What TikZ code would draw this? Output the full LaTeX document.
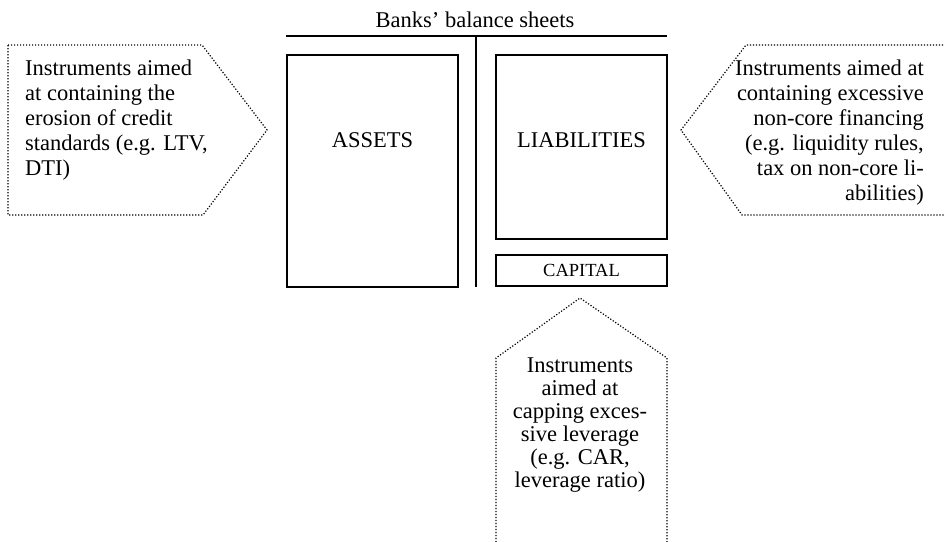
\documentclass[tikz,border=0pt]{standalone}
\usepackage{fontspec}
\setmainfont{Liberation Serif}
\usetikzlibrary{positioning,calc}
\tikzset{
    sheetbox/.style={rectangle, draw, line width=1.4pt, inner sep=0pt},
    sheettext/.style={font=\fontsize{22.5}{25}\selectfont, inner sep=0pt},
    capitaltext/.style={font=\fontsize{18.5}{20}\selectfont, inner sep=0pt},
    tooltext/.style={font=\fontsize{22.5}{25}\selectfont, inner sep=0pt},
    toolshape/.style={draw, line width=1.2pt, dash pattern=on 1.2pt off 1.8pt},
    tline/.style={draw, line width=2.4pt}
}
\begin{document}
\begin{tikzpicture}[x=1pt, y=-1pt]
    \useasboundingbox (0,0) rectangle (944,541);

    % balance sheet
    \node [sheettext, anchor=base] (title) at (475,27) {Banks’ balance sheets};
    \coordinate (tl) at (286,36);
    \coordinate (tr) at (667,36);
    \coordinate (tm) at (476,36);
    \coordinate (tb) at (476,287);
    \path [tline] (tl) -- (tr);
    \path [tline] (tm) -- (tb);

    \node [sheetbox, minimum width=171pt, minimum height=232pt] (assets) at (372.5,171) {};
    \node [sheetbox, minimum width=171pt, minimum height=184pt] (liab) at (581.5,147) {};
    \node [sheetbox, minimum width=171pt, minimum height=31pt] (capital) at (581.5,270.5) {};
    \node [sheettext, anchor=base] at (372.5,147) {ASSETS};
    \node [sheettext, anchor=base] at (581.5,147) {LIABILITIES};
    \node [capitaltext] at (capital) {CAPITAL};

    % instruments
    \path [toolshape] (8,45) -- (202,45) -- (267,130) -- (203,215) -- (8,215) -- cycle;
    \path [toolshape] (946,45) -- (746,45) -- (681,130) -- (742,215) -- (946,215);
    \path [toolshape] (496,545) -- (496,358) -- (580,298) -- (667,358) -- (667,545);

    \node [tooltext, anchor=north west, align=left] (credit) at (25,60)
        {Instruments aimed\\at containing the\\erosion of credit\\standards (e.g. LTV,\\DTI)};
    \node [tooltext, anchor=north east, align=right] (funding) at (924,60)
        {Instruments aimed at\\containing excessive\\non-core financing\\(e.g. liquidity rules,\\tax on non-core li-\\abilities)};
    \node [tooltext, font=\fontsize{22.5}{23}\selectfont, anchor=north, align=center] (leverage) at (580,357.5)
        {Instruments\\aimed at\\capping exces-\\sive leverage\\(e.g. CAR,\\leverage ratio)};
\end{tikzpicture}
\end{document}
